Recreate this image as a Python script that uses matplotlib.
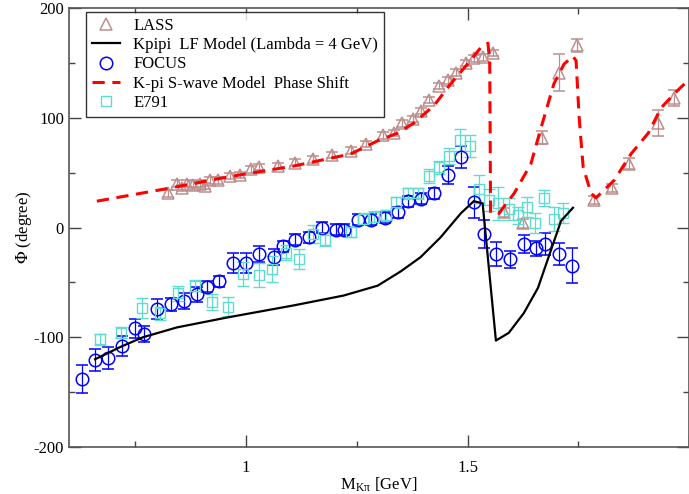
import numpy as np
import matplotlib
matplotlib.use("Agg")
import matplotlib.pyplot as plt
from matplotlib.lines import Line2D

plt.rcParams['font.family'] = ['Liberation Serif', 'DejaVu Serif']
plt.rcParams['mathtext.fontset'] = 'stix'
plt.rcParams['axes.unicode_minus'] = False

# LASS phase data
lass_m = [0.824, 0.844, 0.856, 0.867, 0.881, 0.896, 0.908, 0.919, 0.937, 0.964,
          0.987, 1.010, 1.030, 1.071, 1.111, 1.152, 1.195, 1.236, 1.270, 1.310,
          1.333, 1.353, 1.376, 1.394, 1.412, 1.435, 1.455, 1.473, 1.496, 1.514,
          1.534, 1.557, 1.582, 1.625, 1.668, 1.706, 1.747, 1.785, 1.826, 1.865,
          1.930, 1.967]
lass_phi = [31, 40, 36, 40, 39, 40, 38, 43, 43, 47,
            48, 53, 55, 56, 59, 62, 66, 70, 76, 84,
            86, 95, 99, 106, 116, 129, 134, 141, 150, 154,
            155, 159, 14, 4, 82, 141, 166, 25, 36, 58,
            95, 118]
lass_err = [3, 3, 3, 3, 3, 3, 3, 3, 3, 3,
            3, 3, 3, 3, 3, 3, 3, 3, 3, 3,
            3, 3, 3, 3, 3, 3, 3, 3, 3, 3,
            3, 3, 4, 4, 6, 17, 6, 4, 4, 5,
            12, 7]

# Kpipi LF model (Lambda = 4 GeV)
lf_m = [0.659, 0.690, 0.715, 0.767, 0.844, 0.957, 1.107, 1.220, 1.297, 1.349, 1.394,
        1.439, 1.485, 1.514, 1.534, 1.564, 1.593, 1.627, 1.659, 1.688, 1.711, 1.738]
lf_phi = [-120, -114, -109, -100, -91, -82, -71, -62, -53, -40, -27,
          -9, 13, 24, 22, -103, -96, -78, -55, -21, 6, 18]

# FOCUS phase data
focus_m = [0.629, 0.659, 0.688, 0.720, 0.749, 0.770, 0.799, 0.831, 0.860, 0.890,
           0.912, 0.939, 0.971, 1.000, 1.030, 1.062, 1.084, 1.111, 1.141, 1.172,
           1.202, 1.222, 1.252, 1.283, 1.313, 1.342, 1.365, 1.394, 1.424, 1.455,
           1.485, 1.514, 1.537, 1.564, 1.595, 1.627, 1.654, 1.675, 1.706, 1.736]
focus_phi = [-138, -121, -119, -108, -92, -97, -74, -70, -67, -61,
             -54, -49, -32, -32, -24, -27, -17, -11, -9, 0,
             -2, -2, 7, 7, 9, 14, 24, 26, 31, 48,
             64, 23, -6, -24, -29, -15, -19, -15, -24, -35]
focus_err = [13, 10, 10, 9, 9, 7, 9, 6, 7, 7,
             5, 5, 9, 9, 7, 7, 5, 5, 5, 5,
             5, 5, 5, 5, 5, 5, 5, 5, 5, 8,
             10, 14, 13, 11, 8, 8, 7, 10, 10, 16]

# K-pi S-wave model phase shift
sw_m = [0.663, 0.829, 0.957, 1.107, 1.236, 1.297, 1.342, 1.378, 1.424, 1.462,
        1.500, 1.530, 1.546, 1.550, 1.552, 1.571, 1.605, 1.643, 1.666, 1.695,
        1.718, 1.738, 1.745, 1.752, 1.761, 1.779, 1.790, 1.831, 1.869, 1.908,
        1.937, 1.967, 2.003]
sw_phi = [24, 36, 46, 56, 67, 79, 86, 95, 111, 131,
          149, 164, 168, 152, 13, 13, 31, 58, 91, 131,
          149, 156, 152, 100, 55, 31, 27, 43, 67, 86,
          109, 122, 136]

# E791 phase data
e791_m = [0.670, 0.718, 0.765, 0.806, 0.847, 0.885, 0.924, 0.960, 0.994, 1.028,
          1.059, 1.091, 1.120, 1.150, 1.179, 1.236, 1.263, 1.288, 1.315, 1.338,
          1.365, 1.387, 1.412, 1.435, 1.457, 1.482, 1.505, 1.525, 1.548, 1.568,
          1.593, 1.614, 1.634, 1.652, 1.672, 1.695, 1.715]
e791_phi = [-102, -96, -73, -78, -60, -53, -68, -72, -42, -43,
            -38, -23, -29, -6, -11, -4, 8, 10, 11, 23,
            31, 31, 47, 55, 65, 80, 74, 35, 25, 22,
            17, 11, 19, 4, 27, 8, 13]
e791_err = [5, 5, 9, 6, 7, 5, 7, 9, 11, 11,
            12, 7, 9, 8, 6, 5, 5, 5, 5, 5,
            5, 5, 6, 6, 7, 10, 10, 13, 10, 15,
            10, 8, 9, 9, 7, 11, 9]

lass_col = '#bc8f8f'
e791_col = '#5fdcd0'

fig = plt.figure(figsize=(6.89, 4.94), dpi=100)
ax = fig.add_axes([0.1001, 0.0951, 0.8999, 0.8887])

ax.errorbar(lass_m, lass_phi, yerr=lass_err, fmt='^', ms=8.5, mfc='none',
            mec=lass_col, mew=1.1, ecolor=lass_col, elinewidth=0.9, capsize=4.5,
            capthick=0.9, zorder=2)
ax.plot(lf_m, lf_phi, '-', color='black', lw=1.6, zorder=4)
ax.errorbar(focus_m, focus_phi, yerr=focus_err, fmt='o', ms=9, mfc='none',
            mec='blue', mew=1.1, ecolor='blue', elinewidth=0.9, capsize=4.5,
            capthick=0.9, zorder=3)
ax.plot(sw_m, sw_phi, '--', color='red', lw=2.2, dashes=(4, 2.5), zorder=5)
ax.errorbar(e791_m, e791_phi, yerr=e791_err, fmt='s', ms=6.5, mfc='none',
            mec=e791_col, mew=1.0, ecolor=e791_col, elinewidth=0.9, capsize=4.5,
            capthick=0.9, zorder=3)

ax.set_xlim(0.6, 2.0)
ax.set_ylim(-200, 200)
ax.set_xticks([1, 1.5, 2])
ax.set_xticklabels(['1', '1.5', ''])
ax.set_xticks([0.75, 1.25, 1.75], minor=True)
ax.set_yticks([-200, -100, 0, 100, 200])
ax.set_yticks([-150, -50, 50, 150], minor=True)
ax.tick_params(which='both', direction='in', top=True, right=True,
               labelsize=12, colors='#444444', labelcolor='black')
ax.tick_params(which='major', length=8.5, width=1)
ax.tick_params(which='minor', length=4.5, width=1)
ax.tick_params(axis='x', which='major', pad=9)
for s in ax.spines.values():
    s.set_color('#555555')
    s.set_linewidth(1.2)

ax.set_xlabel(r'M$_{\mathregular{K\pi}}$ [GeV]', fontsize=12, labelpad=0)
ax.set_ylabel(r'$\Phi$ (degree)', fontsize=12, labelpad=0)

handles = [
    Line2D([], [], ls='none', marker='^', ms=8.5, mfc='none', mec=lass_col, mew=1.1),
    Line2D([], [], color='black', lw=1.6),
    Line2D([], [], ls='none', marker='o', ms=9, mfc='none', mec='blue', mew=1.1),
    Line2D([], [], color='red', lw=2.2, ls='--', dashes=(4, 2.5)),
    Line2D([], [], ls='none', marker='s', ms=6.5, mfc='none', mec=e791_col, mew=1.0),
]
labels = ['LASS', 'Kpipi  LF Model (Lambda = 4 GeV)', 'FOCUS',
          'K-pi S-wave Model  Phase Shift', 'E791']
leg = ax.legend(handles, labels, loc='upper left', bbox_to_anchor=(0.027, 0.991),
                fontsize=12, frameon=True, fancybox=False, borderpad=0.35,
                labelspacing=0.2, handlelength=1.7, handletextpad=0.8,
                borderaxespad=0)
leg.get_frame().set_edgecolor('black')
leg.get_frame().set_linewidth(1.0)

fig.savefig('out.png', dpi=100)
